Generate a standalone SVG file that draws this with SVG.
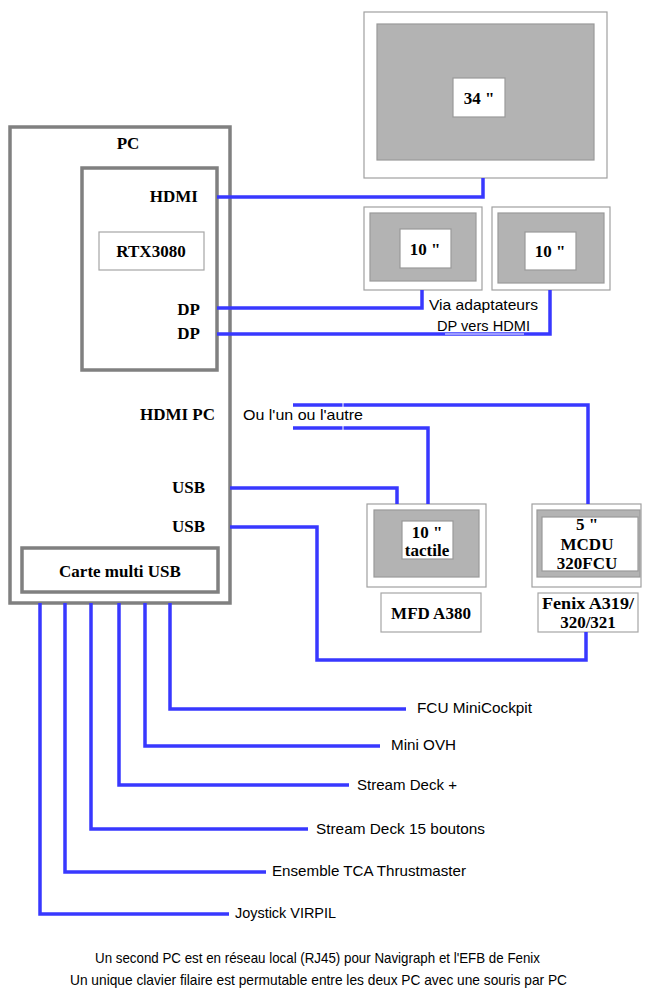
<svg xmlns="http://www.w3.org/2000/svg" width="658" height="997" viewBox="0 0 658 997">
<style>
.b{font-family:"Liberation Serif",serif;font-weight:bold;font-size:17px;fill:#000}
.s{font-family:"Liberation Sans",sans-serif;font-size:15px;fill:#000}
.thick{fill:#fff;stroke:#808080;stroke-width:3.5}
.frame{fill:#fff;stroke:#a0a0a0;stroke-width:1.2}
.screen{fill:#b3b3b3;stroke:#999;stroke-width:1.2}
.lbl{fill:#fff;stroke:#999;stroke-width:1.2}
.w{fill:none;stroke:#3838ff;stroke-width:3.5}
</style>
<rect width="658" height="997" fill="#fff"/>
<g id="pc">
<rect class="thick" x="10" y="127" width="220" height="476"/>
<text class="b" x="128" y="149" text-anchor="middle">PC</text>
<text class="b" x="215" y="420" text-anchor="end">HDMI PC</text>
<text class="b" x="205" y="493" text-anchor="end">USB</text>
<text class="b" x="205" y="532" text-anchor="end">USB</text>
</g>
<g id="gpu">
<rect class="thick" x="82" y="168" width="135" height="202"/>
<text class="b" x="198" y="202" text-anchor="end">HDMI</text>
<text class="b" x="200" y="315" text-anchor="end">DP</text>
<text class="b" x="200" y="339" text-anchor="end">DP</text>
</g>
<g id="rtx">
<rect x="99" y="232" width="105" height="38" fill="#fff" stroke="#a6a6a6" stroke-width="1.2"/>
<text class="b" x="151" y="257" text-anchor="middle">RTX3080</text>
</g>
<g id="usbcard">
<rect class="thick" x="22" y="548" width="196" height="44"/>
<text class="b" x="120" y="577" text-anchor="middle">Carte multi USB</text>
</g>
<g id="mon34">
<rect class="frame" x="364" y="12" width="243" height="166"/>
<rect class="screen" x="377" y="24" width="217" height="136"/>
<rect class="lbl" x="453" y="78" width="52" height="39"/>
<text class="b" x="479" y="104" text-anchor="middle">34 "</text>
</g>
<g id="mon10a">
<rect class="frame" x="364" y="207" width="118" height="83"/>
<rect class="screen" x="370" y="213" width="106" height="68"/>
<rect class="lbl" x="400" y="229" width="51" height="39"/>
<text class="b" x="425" y="255" text-anchor="middle">10 "</text>
</g>
<g id="mon10b">
<rect class="frame" x="492" y="207" width="118" height="83"/>
<rect class="screen" x="498" y="213" width="106" height="70"/>
<rect class="lbl" x="525" y="232" width="51" height="38"/>
<text class="b" x="550" y="257" text-anchor="middle">10 "</text>
</g>
<g id="mfd">
<rect class="frame" x="367" y="504" width="119" height="83"/>
<rect class="screen" x="374" y="510" width="105" height="67"/>
<rect class="lbl" x="402" y="521" width="51" height="38"/>
<text class="b" x="427" y="538" text-anchor="middle">10 "</text>
<text class="b" x="427" y="556" text-anchor="middle">tactile</text>
<rect x="381" y="593" width="100" height="39" fill="#fff" stroke="#a6a6a6" stroke-width="1.2"/>
<text class="b" x="431" y="619" text-anchor="middle">MFD A380</text>
</g>
<g id="mcdu">
<rect class="frame" x="532" y="504" width="109" height="83"/>
<rect class="screen" x="537" y="510" width="103" height="67"/>
<rect class="lbl" x="542" y="517" width="96" height="54"/>
<text class="b" x="587" y="530" text-anchor="middle">5 "</text>
<text class="b" x="587" y="550" text-anchor="middle">MCDU</text>
<text class="b" x="587" y="569" text-anchor="middle">320FCU</text>
<rect x="538" y="593" width="100" height="39" fill="#fff" stroke="#a6a6a6" stroke-width="1.2"/>
<text class="b" x="542" y="609" textLength="92" lengthAdjust="spacingAndGlyphs">Fenix A319/</text>
<text class="b" x="588" y="628" text-anchor="middle">320/321</text>
</g>
<g id="connectors">
<polyline class="w" points="217,197 483,197 483,178"/>
<polyline class="w" points="217,308 422,308 422,290"/>
<polyline class="w" points="217,334 550,334 550,290"/>
<line x1="445" y1="334" x2="524" y2="334" stroke="#fff" stroke-width="1"/>
<polyline class="w" points="293,405 588,405 588,504"/>
<polyline class="w" points="293,428 428,428 428,504"/>
<line x1="343" y1="402" x2="343" y2="431" stroke="#fff" stroke-width="1"/>
<polyline class="w" points="230,488 397,488 397,504"/>
<polyline class="w" points="230,527 317,527 317,660 586,660 586,632"/>
<polyline class="w" points="170,603 170,709 406,709"/>
<polyline class="w" points="145,603 145,746 380,746"/>
<polyline class="w" points="119,603 119,785 349,785"/>
<polyline class="w" points="91,603 91,829 308,829"/>
<polyline class="w" points="65,603 65,872 266,872"/>
<polyline class="w" points="40,603 40,914 229,914"/>
</g>
<g id="labels">
<text class="s" x="429" y="310" textLength="109" lengthAdjust="spacingAndGlyphs">Via adaptateurs</text>
<text class="s" x="437" y="331" textLength="93" lengthAdjust="spacingAndGlyphs">DP vers HDMI</text>
<text class="s" x="243" y="420" textLength="120" lengthAdjust="spacingAndGlyphs">Ou l'un ou l'autre</text>
<text class="s" x="417" y="713" textLength="115" lengthAdjust="spacingAndGlyphs">FCU MiniCockpit</text>
<text class="s" x="391" y="750" textLength="65" lengthAdjust="spacingAndGlyphs">Mini OVH</text>
<text class="s" x="357" y="790" textLength="100" lengthAdjust="spacingAndGlyphs">Stream Deck +</text>
<text class="s" x="316" y="834" textLength="169" lengthAdjust="spacingAndGlyphs">Stream Deck 15 boutons</text>
<text class="s" x="272" y="876" textLength="194" lengthAdjust="spacingAndGlyphs">Ensemble TCA Thrustmaster</text>
<text class="s" x="235" y="918" textLength="101" lengthAdjust="spacingAndGlyphs">Joystick VIRPIL</text>
<text class="s" x="95" y="963" textLength="445" lengthAdjust="spacingAndGlyphs">Un second PC est en réseau local (RJ45) pour Navigraph et l'EFB de Fenix</text>
<text class="s" x="70" y="985" textLength="497" lengthAdjust="spacingAndGlyphs">Un unique clavier filaire est permutable entre les deux PC avec une souris par PC</text>
</g>
</svg>
